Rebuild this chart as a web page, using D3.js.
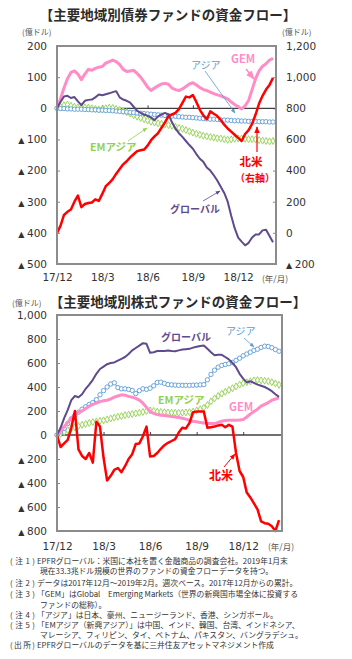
<!DOCTYPE html>
<html>
<head>
<meta charset="utf-8">
<script src="https://cdn.jsdelivr.net/npm/d3@7"></script>
<style>
  body { margin: 0; background: #fff; }
  svg text { font-family: "DejaVu Sans", sans-serif; }
  .jp { font-family: "Noto Sans CJK JP", sans-serif; }
</style>
</head>
<body>
<svg width="352" height="659"></svg>
<script>
// ---- data (weekly cumulative flows, 億ドル, 2017/12 - 2019/2) ----
const xTickLabels = ["17/12", "18/3", "18/6", "18/9", "18/12"];
const xTickWeeks = [0, 13, 26, 39, 52];

const bondLeftTicks = [200, 100, 0, -100, -200, -300, -400, -500];
const bondRightTicks = [1200, 1000, 800, 600, 400, 200, 0, -200];
const stockTicks = [1000, 800, 600, 400, 200, 0, -200, -400, -600, -800];

// bond funds
const bondGEM = [0, 30, 65, 95, 115, 120, 110, 92, 110, 125, 122, 128, 132, 134, 145, 150, 155, 150, 140, 125,
  118, 120, 122, 112, 100, 85, 68, 57, 65, 72, 78, 80, 77, 65, 60, 57, 62, 70, 78, 82,
  75, 67, 60, 57, 52, 47, 43, 40, 35, 30, 20, 12, 5, -2, 8, 25, 60, 95, 120, 135, 143, 155, 160];
const bondGlobal = [0, 20, 38, 40, 33, 36, 22, 10, 24, 27, 28, 35, 44, 42, 45, 48, 52, 55, 35, 28,
  24, 18, 5, -8, -15, -20, -24, -30, -38, -26, -20, -15, -20, -45, -65, -80, -92, -105, -118, -130,
  -147, -162, -172, -190, -200, -215, -232, -252, -272, -300, -345, -385, -415, -428, -440, -432, -415, -405, -405, -392, -390, -410, -430];
const bondAsia = [0, -1, -1, -2, -2, -3, -3, -3, -4, -4, -5, -5, -6, -6, -7, -7, -8, -9, -10, -11,
  -12, -13, -14, -15, -16, -17, -18, -19, -20, -21, -22, -23, -24, -25, -26, -27, -28, -29, -29, -30,
  -31, -32, -33, -34, -35, -35, -36, -37, -38, -38, -39, -40, -40, -41, -41, -42, -42, -42, -43, -43, -43, -44, -44];
const bondEMAsia = [0, 5, 10, 12, 8, 5, 3, 2, 3, 2, 0, -2, -4, -3, 0, 2, 1, -2, -5, -8,
  -12, -17, -22, -27, -31, -35, -39, -43, -46, -48, -50, -52, -54, -56, -60, -63, -66, -70, -74, -78,
  -82, -85, -88, -90, -92, -94, -96, -97, -99, -101, -100, -98, -97, -97, -98, -99, -99, -100, -102, -104, -105, -106, -105];
// 北米 (right axis)
const bondNA = [0, 45, 115, 135, 150, 200, 240, 165, 185, 192, 195, 215, 205, 250, 300, 320, 345, 380, 410, 440,
  460, 485, 505, 525, 530, 535, 560, 595, 620, 640, 675, 710, 750, 760, 770, 795, 835, 875, 870, 885,
  840, 790, 755, 730, 780, 765, 750, 725, 695, 670, 650, 630, 610, 590, 635, 660, 700, 760, 830, 880, 920, 950, 995];

// stock funds
const stockGlobal = [0, 60, 140, 210, 290, 325, 315, 340, 385, 420, 460, 510, 550, 570, 590, 600, 605, 620, 635, 650,
  675, 705, 725, 745, 765, 760, 685, 690, 700, 700, 700, 705, 700, 698, 705, 712, 715, 718, 728, 735,
  742, 745, 718, 690, 665, 668, 668, 650, 630, 600, 565, 510, 470, 438, 448, 435, 420, 410, 400, 385, 365, 340, 318];
const stockAsia = [0, 25, 55, 95, 135, 165, 190, 215, 235, 255, 270, 295, 335, 370, 400, 425, 435, 395, 385, 385,
  380, 372, 345, 370, 385, 380, 390, 410, 438, 440, 430, 420, 418, 416, 414, 414, 414, 414, 415, 416,
  418, 420, 460, 505, 540, 565, 580, 588, 594, 605, 622, 640, 660, 675, 690, 705, 715, 730, 740, 738, 728, 712, 698];
const stockGEM = [0, 30, 70, 105, 140, 175, 190, 200, 220, 240, 255, 265, 278, 285, 290, 300, 315, 325, 335, 332,
  322, 315, 305, 290, 265, 230, 195, 180, 170, 165, 162, 158, 155, 150, 145, 140, 132, 122, 115, 110,
  105, 100, 98, 95, 95, 105, 115, 120, 122, 122, 122, 125, 130, 150, 175, 195, 215, 240, 255, 270, 290, 300, 310];
const stockEMAsia = [0, 10, 25, 40, 55, 65, 75, 85, 92, 100, 108, 112, 118, 122, 130, 138, 145, 152, 158, 165,
  170, 175, 180, 185, 192, 200, 205, 200, 195, 192, 190, 188, 186, 185, 185, 186, 188, 190, 195, 205,
  215, 228, 250, 280, 305, 325, 345, 360, 375, 390, 405, 420, 432, 440, 448, 455, 458, 455, 452, 448, 440, 430, 418];
const stockNA = [0, -100, -70, -40, 60, 200, -120, -175, -200, -150, -230, 110, 70, -190, -380, -340, -290, -275, -310, -260,
  -200, -160, -75, -70, -10, 70, -180, -175, -150, -115, -85, -65, -50, -35, 20, 60, 55, 100, 190, 195,
  195, 195, 60, 65, 70, 80, 85, 65, 85, 70, -150, -300, -350, -480, -520, -570, -620, -720, -735, -740, -760, -800, -710];

const notes = [
  ["(注1)", "EPFRグローバル：米国に本社を置く金融商品の調査会社。2019年1月末"],
  ["", "現在33.3兆ドル規模の世界のファンドの資金フローデータを持つ。"],
  ["(注2)", "データは2017年12月～2019年2月。週次ベース。2017年12月からの累計。"],
  ["(注3)", "「GEM」はGlobal　Emerging Markets（世界の新興国市場全体に投資する"],
  ["", "ファンドの総称）。"],
  ["(注4)", "「アジア」は日本、豪州、ニュージーランド、香港、シンガポール。"],
  ["(注5)", "「EMアジア（新興アジア）」は中国、インド、韓国、台湾、インドネシア、"],
  ["", "マレーシア、フィリピン、タイ、ベトナム、パキスタン、バングラデシュ。"],
  ["(出所)", "EPFRグローバルのデータを基に三井住友アセットマネジメント作成"]
];

// ---- styles ----
const C = {
  gem: "#ff8cc6", global: "#5e4a8c", asia: "#5b9bd5", em: "#92d050", na: "#ff0000",
  frame: "#8c8c8c", zero: "#404040", text: "#333"
};

const svg = d3.select("svg");

const defs = svg.append("defs");
Object.entries(C).forEach(([k, col]) => {
  defs.append("marker").attr("id", "arr-" + k)
    .attr("viewBox", "0 0 10 10").attr("refX", 9).attr("refY", 5)
    .attr("markerWidth", 6).attr("markerHeight", 6).attr("orient", "auto")
    .append("path").attr("d", "M0,1L10,5L0,9z").attr("fill", col);
});

function tickText(g, fmt) {
  g.selectAll(".tick text").each(function (d) {
    const t = d3.select(this).text(null);
    if (d < 0) {
      t.append("tspan").attr("font-size", 8).text("▲ ");
      t.append("tspan").text(fmt(-d));
    } else t.text(fmt(d));
  });
}

function panel(o) {
  const g = svg.append("g").attr("transform", `translate(${o.left},${o.top})`);
  const x = d3.scaleLinear().domain([0, 62]).range([0, o.dataW]);
  const y = d3.scaleLinear().domain(o.yDomain).range([o.h, 0]);
  const fmt = d3.format(",");

  // left axis
  g.append("g")
    .call(d3.axisLeft(y).tickValues(o.yTicks).tickSizeInner(-3).tickSizeOuter(0).tickPadding(10))
    .call(a => a.select(".domain").remove())
    .call(a => a.selectAll(".tick line").attr("stroke", C.frame))
    .call(a => a.selectAll(".tick text").attr("font-size", 10.5).attr("fill", C.text))
    .call(a => tickText(a, fmt));

  let y2 = null;
  if (o.y2Domain) {
    y2 = d3.scaleLinear().domain(o.y2Domain).range([o.h, 0]);
    g.append("g").attr("transform", `translate(${o.w},0)`)
      .call(d3.axisRight(y2).tickValues(o.y2Ticks).tickSizeInner(-3).tickSizeOuter(0).tickPadding(10))
      .call(a => a.select(".domain").remove())
      .call(a => a.selectAll(".tick line").attr("stroke", C.frame))
      .call(a => a.selectAll(".tick text").attr("font-size", 10.5).attr("fill", C.text))
      .call(a => tickText(a, fmt));
  }

  // x labels below plot
  g.append("g").attr("transform", `translate(0,${o.h})`)
    .call(d3.axisBottom(x).tickValues(xTickWeeks).tickSize(0).tickPadding(o.xPad)
      .tickFormat((d, i) => xTickLabels[i]))
    .call(a => a.select(".domain").remove())
    .call(a => a.selectAll(".tick text").attr("font-size", 10.5).attr("fill", C.text));

  // zero line with tick marks
  g.append("g").attr("transform", `translate(0,${y(0)})`)
    .call(d3.axisBottom(x).tickValues(xTickWeeks.slice(1)).tickSizeInner(-3).tickSizeOuter(0).tickFormat(""))
    .call(a => a.select(".domain").attr("d", `M0,0H${o.w}`).attr("stroke", C.zero).attr("stroke-width", 1.3))
    .call(a => a.selectAll(".tick line").attr("stroke", C.zero));

  const line = sc => d3.line().x((d, i) => x(i)).y(d => sc(d));

  o.series.forEach(s => {
    const sc = s.right ? y2 : y;
    g.append("path").datum(s.values)
      .attr("fill", "none").attr("stroke", s.color).attr("stroke-width", s.width)
      .attr("stroke-linejoin", "round").attr("d", line(sc));
    if (s.marker) {
      g.append("g").selectAll("path").data(s.values).join("path")
        .attr("transform", (d, i) => `translate(${x(i)},${sc(d)})`)
        .attr("d", d3.symbol(s.marker, s.size)())
        .attr("fill", "#fff").attr("stroke", s.color).attr("stroke-width", 0.9);
    }
  });

  // frame
  g.append("rect").attr("width", o.w).attr("height", o.h)
    .attr("fill", "none").attr("stroke", C.frame).attr("stroke-width", 2);
}

function label(t, x, y, col, size, weight, anchor) {
  return svg.append("text").attr("class", "jp").attr("x", x).attr("y", y)
    .attr("fill", col).attr("font-size", size).attr("font-weight", weight || "normal")
    .attr("text-anchor", anchor || "start").text(t);
}
function arrow(x1, y1, x2, y2, key, w) {
  svg.append("line").attr("x1", x1).attr("y1", y1).attr("x2", x2).attr("y2", y2)
    .attr("stroke", C[key]).attr("stroke-width", w || 1).attr("marker-end", `url(#arr-${key})`);
}

// ---- chart 1: bonds ----
label("【主要地域別債券ファンドの資金フロー】", 168, 20, "#2b2b2b", 13.5, "bold", "middle");
label("(億ドル)", 22, 35, "#555", 8);
label("(億ドル)", 282, 35, "#555", 8);
label("(年/月)", 262, 282, "#555", 8.5);

panel({
  left: 57, top: 46, w: 219, h: 218, dataW: 216, xPad: 10,
  yDomain: [-500, 200], yTicks: bondLeftTicks,
  y2Domain: [-200, 1200], y2Ticks: bondRightTicks,
  series: [
    { values: bondGEM, color: C.gem, width: 3 },
    { values: bondEMAsia, color: C.em, width: 1, marker: d3.symbolDiamond, size: 14 },
    { values: bondAsia, color: C.asia, width: 1, marker: d3.symbolCircle, size: 15 },
    { values: bondGlobal, color: C.global, width: 2 },
    { values: bondNA, color: C.na, width: 2.5, right: true }
  ]
});

label("GEM", 231, 63, C.gem, 11, "bold");
arrow(246, 69, 254, 79, "gem", 1.5);
label("アジア", 191, 69, C.asia, 10);
arrow(205, 71, 235, 113, "asia", 0.8);
label("EMアジア", 90, 151, C.em, 10.5, "bold");
arrow(128, 141, 147, 128, "em", 0.8);
label("北米", 251, 166, C.na, 11.5, "bold", "middle");
label("（右軸）", 255, 182, C.na, 10, "bold", "middle");
arrow(257, 152, 257, 127, "na", 1.2);
label("グローバル", 170, 213, C.global, 10, "bold");
arrow(203, 201, 220, 191, "global", 0.8);

// ---- chart 2: stocks ----
label("【主要地域別株式ファンドの資金フロー】", 178, 307, "#2b2b2b", 13.5, "bold", "middle");
label("(億ドル)", 12, 306, "#555", 8);
label("(年/月)", 268, 550, "#555", 8.5);

panel({
  left: 57, top: 315, w: 225, h: 216, dataW: 222, xPad: 12,
  yDomain: [-800, 1000], yTicks: stockTicks,
  series: [
    { values: stockEMAsia, color: C.em, width: 1, marker: d3.symbolDiamond, size: 14 },
    { values: stockAsia, color: C.asia, width: 1, marker: d3.symbolCircle, size: 15 },
    { values: stockGEM, color: C.gem, width: 3 },
    { values: stockGlobal, color: C.global, width: 2 },
    { values: stockNA, color: C.na, width: 2.5 }
  ]
});

label("グローバル", 161, 341, C.global, 10, "bold");
label("アジア", 226, 335, C.asia, 10);
arrow(244, 338, 254, 347, "asia", 0.8);
label("EMアジア", 158, 404, C.em, 10.5, "bold");
label("GEM", 229, 411, C.gem, 11, "bold");
label("北米", 209, 480, C.na, 12, "bold");
arrow(224, 467, 235, 454, "na", 1);

// ---- notes ----
notes.forEach((n, i) => {
  const yy = [564, 573.5, 586, 597, 607.5, 618, 628, 638, 648][i];
  if (n[0]) label(n[0], 10, yy, C.text, 7.8).attr("textLength", 25);
  label(n[1], n[0] ? 37 : 40, yy, C.text, 7.8);
});
</script>
</body>
</html>
